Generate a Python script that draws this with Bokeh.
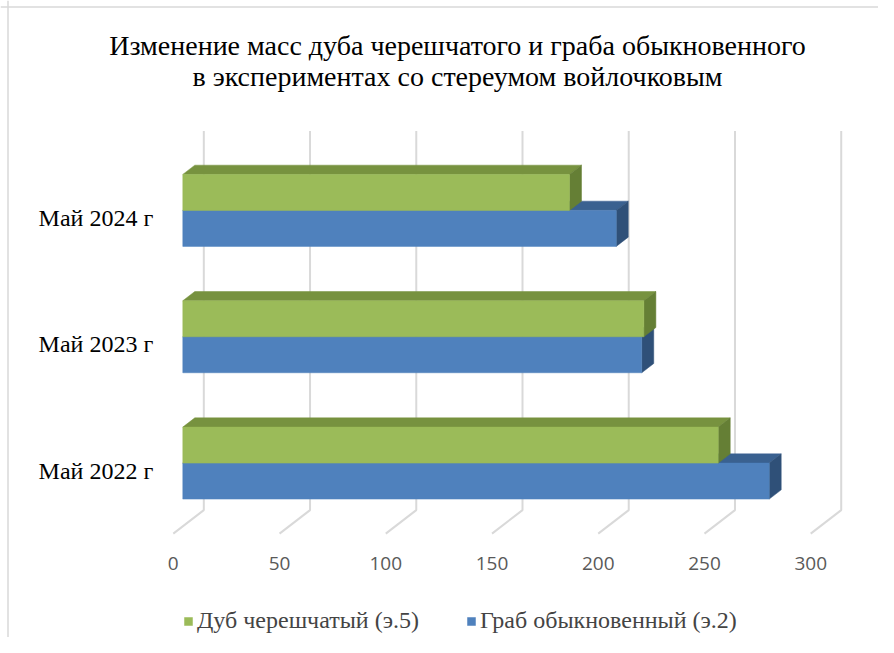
from bokeh.plotting import figure
from bokeh.models import Range1d, Legend, LegendItem, ColumnDataSource, Label, Span
from bokeh.core.properties import value
from bokeh.embed import file_html
from bokeh.resources import INLINE

# ---------------- data ----------------
title_lines = ["Изменение масс дуба черешчатого и граба обыкновенного",
               "в экспериментах со стереумом войлочковым"]
categories = ["Май 2022 г", "Май 2023 г", "Май 2024 г"]
series_names = ["Дуб черешчатый (э.5)", "Граб обыкновенный (э.2)"]
dub = [252, 217, 182]    # Дуб черешчатый (э.5)
grab = [276, 216, 204]   # Граб обыкновенный (э.2)
x_ticks = [0, 50, 100, 150, 200, 250, 300]
x_tick_labels = ["0", "50", "100", "150", "200", "250", "300"]

# ---------------- geometry ----------------
W, H = 878, 637
SX = 2.1247      # px per value unit
SY = 126.35      # px per category
X0 = 182.3       # canvas px of value 0 (bar front plane)
Y0 = 462.6       # canvas px (from top) of first category centre
x_start = -X0 / SX
x_end = x_start + W / SX
y_start = -(H - Y0) / SY
y_end = y_start + H / SY

SLOPE = 0.77
def dxy(d):
    """depth in px (positive = towards back) -> data offsets"""
    return d / SX, d * SLOPE / SY

BACK = 21.0       # back wall depth relative to bar front
FRONT = -9.5      # front floor edge
BAR_D = 12.0      # bar depth
BH = 36.0 / SY    # bar height (category units)

p = figure(width=W, height=H, x_range=Range1d(x_start, x_end),
           y_range=Range1d(y_start, y_end), output_backend="svg",
           toolbar_location=None, x_axis_location=None, y_axis_location=None,
           min_border=0)
p.grid.visible = False
p.outline_line_color = None
p.background_fill_color = "white"
p.border_fill_color = "white"

# chart-area border (left and top edges visible in the reference)
p.add_layout(Span(location=7.5, location_units="screen", dimension="height",
                  line_color="#d9d9d9", line_width=1.5))
p.add_layout(Span(location=H - 6.5, location_units="screen", dimension="width",
                  line_color="#d9d9d9", line_width=1.5))

ncat = len(categories)
lo, hi = -0.5, ncat - 0.5

# gridlines: back wall verticals + floor diagonals
bx, by = dxy(BACK)
fx, fy = dxy(FRONT)
gxs, gys = [], []
for t in x_ticks:
    gxs.append([t + fx, t + bx, t + bx])
    gys.append([lo + fy, lo + by, hi + by])
p.multi_line(gxs, gys, line_color="#d9d9d9", line_width=2)

# bars
ddx, ddy = dxy(BAR_D)
def draw_series(vals, base_off, front, top, side):
    bottoms = [i + base_off for i in range(ncat)]
    tops = [b + BH for b in bottoms]
    txs = [[0, v, v + ddx, ddx] for v in vals]
    tys = [[t, t, t + ddy, t + ddy] for t in tops]
    p.patches(txs, tys, fill_color=top, line_color=top, line_width=0.5)
    sxs = [[v, v + ddx, v + ddx, v] for v in vals]
    sys_ = [[b, b + ddy, t + ddy, t] for b, t in zip(bottoms, tops)]
    p.patches(sxs, sys_, fill_color=side, line_color=side, line_width=0.5)
    src = ColumnDataSource(dict(y=[b + BH / 2 for b in bottoms], right=vals))
    return p.hbar(y="y", left=0, right="right", height=BH, source=src,
                  fill_color=front, line_color=front, line_width=0.5)

r_grab = draw_series(grab, -BH, "#4F81BD", "#3A6190", "#2F5078")
r_dub = draw_series(dub, 0.0, "#9BBB59", "#77923F", "#657F35")

# tick labels (front floor edge)
p.text(x=x_ticks, y=[lo] * len(x_ticks), text=x_tick_labels,
       x_offset=-9.5, y_offset=37, text_align="center", text_baseline="middle",
       text_font=value("Open Sans"), text_font_size="19px", text_color="#595959")

# category labels
p.text(x=[0] * ncat, y=list(range(ncat)), text=categories,
       x_offset=-29.5, y_offset=7.5, text_align="right", text_baseline="middle",
       text_font=value("Liberation Serif"), text_font_size="24px", text_color="black")

# title
for k, line in enumerate(title_lines):
    p.add_layout(Label(x=457, y=H - 45 - 31 * k, x_units="screen", y_units="screen",
                       text=line, text_align="center", text_baseline="middle",
                       text_font="Liberation Serif", text_font_size="28px",
                       text_color="black"))

legend = Legend(items=[LegendItem(label=series_names[0], renderers=[r_dub]),
                       LegendItem(label=series_names[1], renderers=[r_grab])],
                orientation="horizontal", location=(183, 3),
                label_text_font="Liberation Serif", label_text_font_size="24px",
                glyph_width=10, glyph_height=10, label_standoff=4, spacing=47,
                padding=0, margin=0, border_line_color=None,
                background_fill_alpha=0)
p.add_layout(legend)

open("out.html", "w").write(file_html(p, INLINE))
